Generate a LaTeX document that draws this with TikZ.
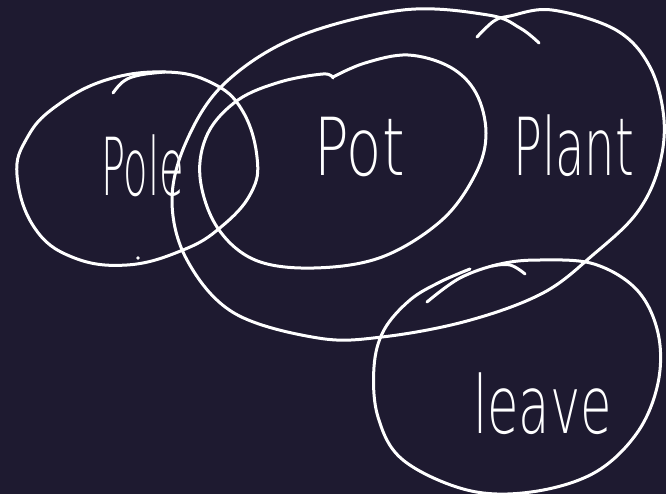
\documentclass[tikz,border=0pt]{standalone}
\usepackage{fontspec}
\newfontfamily\handfont{DejaVu Sans ExtraLight}
\definecolor{bgc}{RGB}{30,26,48}
\tikzset{
  pen/.style={draw=white, line width=3pt, line cap=round, line join=round},
  lbl/.style={text=white, inner sep=0pt, font=\handfont\fontsize{80}{80}\selectfont},
}
\begin{document}
\begin{tikzpicture}[x=1pt,y=-1pt]
\fill[bgc] (0,0) rectangle (666,494);
\useasboundingbox (0,0) rectangle (666,494);
% Pole
\draw[pen] plot[smooth cycle, tension=0.7] coordinates {(17,175) (27,138) (55,107) (106,80) (166,72) (212,83) (242,110) (257,157) (251,193) (221,227) (183,250) (127,265) (72,257) (34,227)};
\draw[pen] plot[smooth, tension=0.7] coordinates {(113,93) (124,81) (140,75) (165,72)};
\fill[white] (138,258) circle (1.8);
% Pot
\draw[pen] plot[smooth, tension=0.6] coordinates {(333,77) (365,63) (408,55) (450,67) (476,93) (486,133) (476,173) (442,220) (382,257) (314,268) (255,260) (217,227) (200,177) (208,133) (238,100) (280,82) (323,74) (333,78)};
% Plant
\draw[pen] plot[smooth, tension=0.6] coordinates {(477,37) (494,21) (510,16) (552,10) (616,30) (650,67) (664,120) (658,170) (636,214) (594,254) (543,293) (467,321) (382,337) (318,338) (234,313) (187,260) (172,200) (187,140) (225,83) (297,37) (403,10) (488,15) (520,28) (539,43)};
% leave
\draw[pen] plot[smooth, tension=0.6] coordinates {(427,302) (460,278) (500,264) (540,260) (594,264) (637,290) (658,333) (658,383) (637,433) (594,473) (531,492) (467,490) (403,460) (378,417) (374,367) (384,330) (410,300) (440,282) (470,269)};
\draw[pen] plot[smooth, tension=0.7] coordinates {(492,266) (510,265) (525,274)};
% labels
\node[lbl, anchor=west] (pole) at (101,166) {\scalebox{0.5}[1]{Pole}};
\node[lbl, anchor=west] (pot) at (314,147) {\scalebox{0.72}[1]{Pot}};
\node[lbl, anchor=west] (plant) at (513,146) {\scalebox{0.6}[1]{Plant}};
\node[lbl, anchor=west] (leave) at (473,404) {\scalebox{0.64}[1]{leave}};
\end{tikzpicture}
\end{document}
